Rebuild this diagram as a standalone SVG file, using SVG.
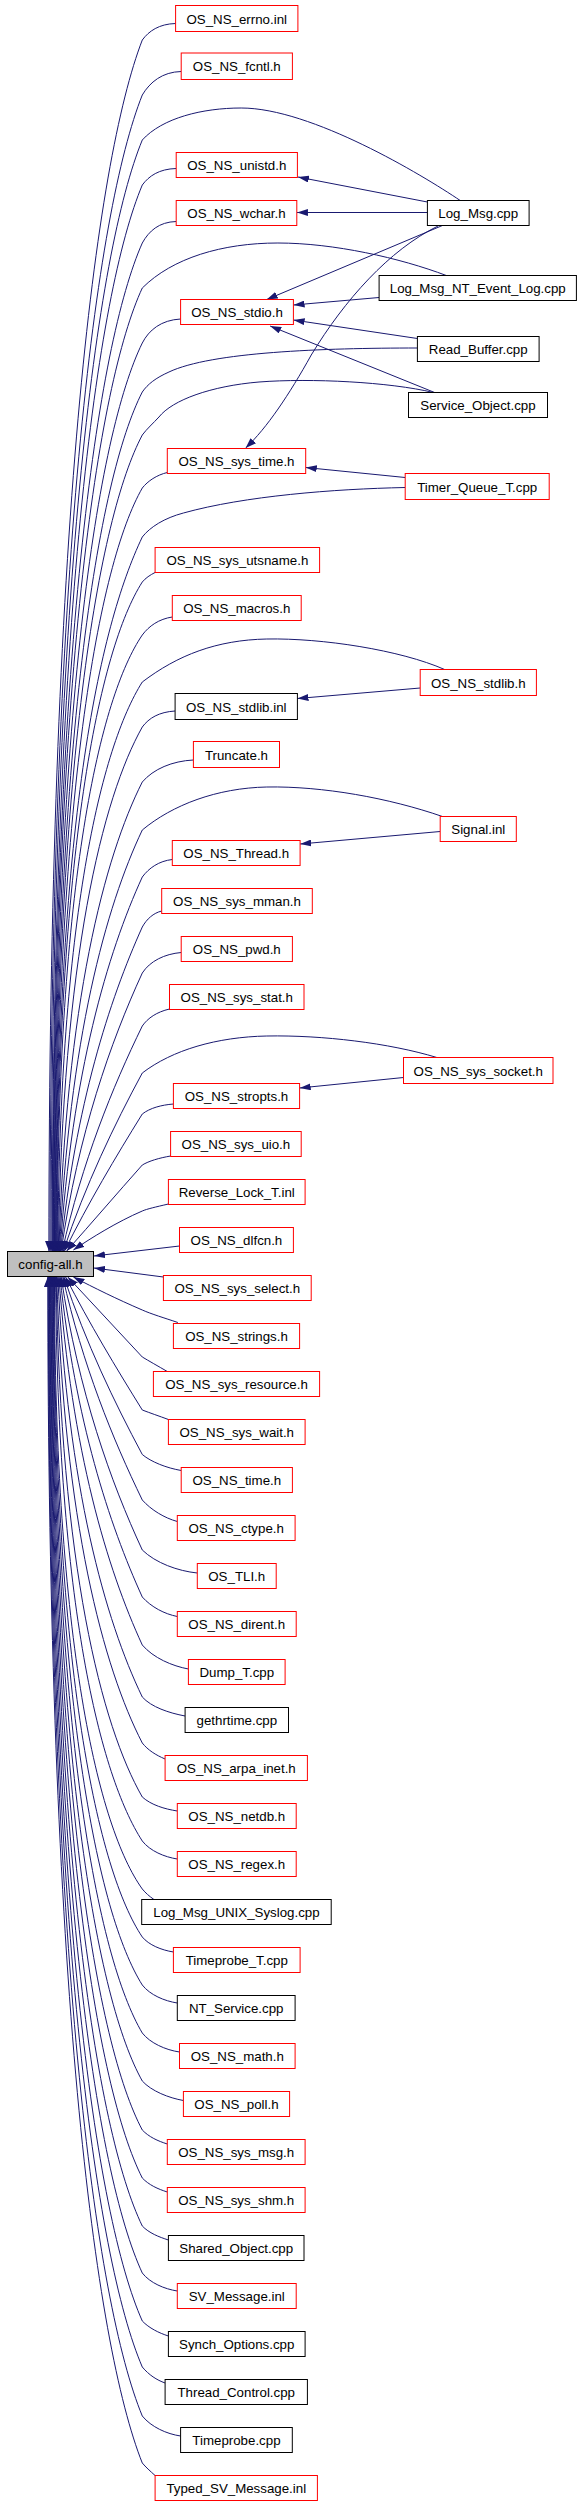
<svg xmlns="http://www.w3.org/2000/svg" width="581" height="2504" viewBox="0 0 581 2504">
<style>
.e{fill:none;stroke:#191970;stroke-width:1;vector-effect:non-scaling-stroke;marker-end:url(#a)}
.n rect{fill:#fff;stroke-width:1}
.r rect{stroke:#ff0000}
.b rect{stroke:#000}
.n text{font-family:"Liberation Sans",Arial,sans-serif;font-size:13.3px;text-anchor:middle;fill:#000}
</style>
<defs>
<marker id="a" viewBox="0 0 10 7" refX="10" refY="3.5" markerWidth="10" markerHeight="7" markerUnits="userSpaceOnUse" orient="auto">
<path d="M0,0 L10,3.5 L0,7 z" fill="#191970"/>
</marker>
</defs>
<rect width="581" height="2504" fill="#fff"/>
<g id="edges" transform="matrix(1.1116,0,0,1,0,0)">
<path class="e" d="M158,23.5 C143,24 134,31 128,40 C86,161 44,524 44,1251"/>
<path class="e" d="M163,71.5 C146,72 135,82 128,95 C86.5,211 45,557 45,1251"/>
<path class="e" d="M414,200.5 C380,175 280,108 217,108 C182,108 146,118 128,140 C87,251 46,584 46,1251"/>
<path class="e" d="M158.5,168.5 C143,169 134,176 128,185 C87.5,292 47,611 47,1251"/>
<path class="e" d="M158.5,221.5 C143,222 134,231 128,243 C87.75,344 47.5,646 47.5,1251"/>
<path class="e" d="M401.5,275.5 C360,258 300,243 250,243 C200,243 155,258 128,288 C88,384 48,673 48,1251"/>
<path class="e" d="M162.5,319 C145,320 134,330 128,343 C88,434 48.5,706 48.5,1251"/>
<path class="e" d="M375.5,348 C290,348 190,352 152,372 C140,378 133,384 128,392 C88.5,478 49,736 49,1251"/>
<path class="e" d="M390,392.5 C350,382 280,378 233,382 C190,386 155,400 143,417 C138,423 132,429 128,435 C89,517 49.5,761 49.5,1251"/>
<path class="e" d="M150.5,472.5 C141,475 133,481 128,488 C89,564 50,793 50,1251"/>
<path class="e" d="M364.5,487.5 C300,489 220,496 165,513 C148,518 135,527 128,537 C89,628 50.5,823 50.5,1251"/>
<path class="e" d="M139.5,572.5 C135,575 131,578 128,582 C89.5,649 51,850 51,1251"/>
<path class="e" d="M155,617 C143,619 134,626 128,635 C90,697 51.5,881 51.5,1251"/>
<path class="e" d="M400,669.5 C360,650 290,638 240,639 C195,640 160,655 128,682 C91,747 53.5,919 52,1251"/>
<path class="e" d="M157.5,711 C143,712 134,718 128,727 C92.2,797.7 56.2,958 52.5,1251"/>
<path class="e" d="M174,760 C155,761 138,769 128,782 C93.9,857 59.5,1003 53,1251"/>
<path class="e" d="M398,816.5 C350,798 290,786 240,787 C195,788 155,805 128,830 C95.3,906.6 62.3,1039 53.5,1251"/>
<path class="e" d="M155,859.5 C143,861 134,868 128,877 C96.7,953 65,1072 54,1251"/>
<path class="e" d="M145.5,911 C138,913 132,919 128,927 C98.2,1000.5 67.9,1105 54.5,1251"/>
<path class="e" d="M163,952.5 C148,954 135,961 128,973 C99.5,1042 70.5,1133 55,1251"/>
<path class="e" d="M152.5,1009 C141,1012 133,1018 128,1026 C101.2,1087 73.8,1162 56,1251"/>
<path class="e" d="M393,1057.5 C350,1043 290,1035 240,1036 C195,1037 155,1050 128,1073 C102.7,1125 76.8,1185 57,1251"/>
<path class="e" d="M156,1104 C145,1105 135,1108 128,1114 C104,1157 79.4,1203 58,1251"/>
<path class="e" d="M153.5,1156 C143,1158 134,1161 128,1165 C105.6,1193 82.4,1223 60,1251"/>
<path class="e" d="M151.5,1204 C140,1207 132,1209 128,1211 C105,1222 82,1238 66,1250"/>
<path class="e" d="M161.5,1246 L84.5,1256"/>
<path class="e" d="M147,1277 L84.5,1268"/>
<path class="e" d="M160,1322.5 C148,1318 136,1314 128,1310 C105,1299 85,1288 66,1277"/>
<path class="e" d="M150.5,1371.5 C142,1366 134,1361 128,1357 C105.9,1330.6 83.1,1303.4 61,1277"/>
<path class="e" d="M151.5,1419.5 C143,1416 135,1413 128,1410 C104.5,1368 80.3,1323.3 59,1277"/>
<path class="e" d="M163,1470.5 C150,1468 136,1462 128,1454.5 C102.9,1402.3 77.2,1343 57.5,1277"/>
<path class="e" d="M159.5,1521.5 C148,1518 136,1510 128,1500 C101.4,1439 74.3,1365.3 56.5,1277"/>
<path class="e" d="M177.5,1573 C160,1571 140,1563 128,1550 C99.6,1482 70.8,1392.5 55,1277"/>
<path class="e" d="M159.5,1616.5 C148,1614 136,1607 128,1597 C98,1523.8 67.7,1420.7 54,1277"/>
<path class="e" d="M169.5,1669 C155,1666 138,1658 128,1645 C96.4,1568.8 64.5,1451.8 53,1277"/>
<path class="e" d="M166.5,1716 C152,1713 136,1707 128,1697 C94.6,1620 61,1488 52,1277"/>
<path class="e" d="M148.5,1759 C140,1755 133,1750 128,1743 C93,1667.5 57.8,1523 51,1277"/>
<path class="e" d="M159.5,1811 C148,1809 136,1805 128,1797 C91.3,1725.8 54.6,1566.6 50.5,1277"/>
<path class="e" d="M159.5,1859 C148,1857 135,1851 128,1841 C90,1775.6 51.8,1604.7 50,1277"/>
<path class="e" d="M138.5,1899.5 C134,1896 131,1893 128,1889 C88.5,1827.8 49,1644 49,1277"/>
<path class="e" d="M156,1952 C145,1950 134,1945 128,1937 C88.25,1871 48.5,1673 48.5,1277"/>
<path class="e" d="M159.5,2003 C148,2001 135,1995 128,1985 C88,1914.2 48,1701.8 48,1277"/>
<path class="e" d="M161.5,2052 C149,2050 135,2043 128,2033 C87.75,1957.4 47.5,1730.6 47.5,1277"/>
<path class="e" d="M165,2100.5 C152,2098 136,2091 128,2081 C87.5,2000.6 47,1759.4 47,1277"/>
<path class="e" d="M150.5,2144 C142,2141 134,2137 128,2130 C87.25,2044.7 46.5,1788.8 46.5,1277"/>
<path class="e" d="M150.5,2192 C142,2189 134,2185 128,2178 C87,2087.9 46,1817.6 46,1277"/>
<path class="e" d="M151.5,2240 C143,2237 134,2233 128,2226 C86.75,2131.1 45.5,1846.4 45.5,1277"/>
<path class="e" d="M159.5,2291 C148,2289 135,2283 128,2273 C86.5,2173.4 45,1874.6 45,1277"/>
<path class="e" d="M151.5,2336 C143,2333 134,2328 128,2321 C86.25,2216.6 44.5,1903.4 44.5,1277"/>
<path class="e" d="M148.5,2383 C141,2380 134,2375 128,2367 C86,2258 44,1931 44,1277"/>
<path class="e" d="M162.5,2436 C150,2434 136,2427 128,2416 C85.75,2302.1 43.5,1960.4 43.5,1277"/>
<path class="e" d="M139.5,2475.5 C135,2471 131,2467 128,2463 C85.5,2344.4 43,1988.6 43,1277"/>
<path class="e" d="M384.5,202 L268,177"/>
<path class="e" d="M384.5,212.5 L267,212.5"/>
<path class="e" d="M398,225.5 L240,299.5"/>
<path class="e" d="M394,226 C350,250 310,300 280,355 C260,395 240,428 221,448"/>
<path class="e" d="M341,297.5 L264,305"/>
<path class="e" d="M375.5,338.5 L264,320"/>
<path class="e" d="M391,392.5 L243,326"/>
<path class="e" d="M364.5,477.5 L275,467.5"/>
<path class="e" d="M378,688 L267.5,698.5"/>
<path class="e" d="M396,831.5 L270,844"/>
<path class="e" d="M363,1077.5 L269.5,1088"/>
</g>
<g id="node-config-all" class="n b"><rect x="7.5" y="1251.5" width="86" height="25" style="fill:#bfbfbf"/><text x="50.5" y="1269">config-all.h</text></g>
<g id="node-errno" class="n r"><rect x="175.6" y="5.5" width="122.3" height="26"/><text x="236.75" y="23.5">OS_NS_errno.inl</text></g>
<g id="node-fcntl" class="n r"><rect x="181.2" y="53" width="111.2" height="26.5"/><text x="236.8" y="71">OS_NS_fcntl.h</text></g>
<g id="node-unistd" class="n r"><rect x="176.2" y="152.5" width="121.2" height="25"/><text x="236.8" y="170">OS_NS_unistd.h</text></g>
<g id="node-wchar" class="n r"><rect x="176.2" y="200.5" width="120.6" height="25"/><text x="236.5" y="218">OS_NS_wchar.h</text></g>
<g id="node-stdio" class="n r"><rect x="180.6" y="299.5" width="112.8" height="25"/><text x="237" y="317">OS_NS_stdio.h</text></g>
<g id="node-sys_time" class="n r"><rect x="167.3" y="448.5" width="138.4" height="25"/><text x="236.5" y="466">OS_NS_sys_time.h</text></g>
<g id="node-utsname" class="n r"><rect x="155.1" y="547.5" width="164.5" height="25"/><text x="237.35" y="565">OS_NS_sys_utsname.h</text></g>
<g id="node-macros" class="n r"><rect x="172.3" y="595.5" width="128.9" height="25"/><text x="236.75" y="613">OS_NS_macros.h</text></g>
<g id="node-stdlib_inl" class="n b"><rect x="175.1" y="693.5" width="122.3" height="26"/><text x="236.25" y="711.5">OS_NS_stdlib.inl</text></g>
<g id="node-truncate" class="n r"><rect x="193.4" y="741.5" width="86.1" height="26"/><text x="236.45" y="759.5">Truncate.h</text></g>
<g id="node-thread" class="n r"><rect x="172.3" y="840.5" width="127.8" height="25"/><text x="236.2" y="858">OS_NS_Thread.h</text></g>
<g id="node-mman" class="n r"><rect x="161.7" y="888.5" width="150.6" height="25"/><text x="237" y="906">OS_NS_sys_mman.h</text></g>
<g id="node-pwd" class="n r"><rect x="181.2" y="936.5" width="111.2" height="25"/><text x="236.8" y="954">OS_NS_pwd.h</text></g>
<g id="node-stat" class="n r"><rect x="169.5" y="984.5" width="134.5" height="25"/><text x="236.75" y="1002">OS_NS_sys_stat.h</text></g>
<g id="node-stropts" class="n r"><rect x="173.4" y="1083.5" width="126.2" height="25"/><text x="236.5" y="1101">OS_NS_stropts.h</text></g>
<g id="node-uio" class="n r"><rect x="170.6" y="1131.5" width="130.6" height="25"/><text x="235.9" y="1149">OS_NS_sys_uio.h</text></g>
<g id="node-reverse_lock" class="n r"><rect x="168.4" y="1179.5" width="136.7" height="25"/><text x="236.75" y="1197">Reverse_Lock_T.inl</text></g>
<g id="node-dlfcn" class="n r"><rect x="179.5" y="1227.5" width="113.9" height="25"/><text x="236.45" y="1245">OS_NS_dlfcn.h</text></g>
<g id="node-select" class="n r"><rect x="163.4" y="1275.5" width="147.8" height="25"/><text x="237.3" y="1293">OS_NS_sys_select.h</text></g>
<g id="node-strings" class="n r"><rect x="173.4" y="1323.5" width="126.2" height="25"/><text x="236.5" y="1341">OS_NS_strings.h</text></g>
<g id="node-resource" class="n r"><rect x="153.4" y="1371.5" width="166.2" height="25"/><text x="236.5" y="1389">OS_NS_sys_resource.h</text></g>
<g id="node-wait" class="n r"><rect x="168.4" y="1419.5" width="136.7" height="25"/><text x="236.75" y="1437">OS_NS_sys_wait.h</text></g>
<g id="node-time" class="n r"><rect x="181.2" y="1467.5" width="111.2" height="25"/><text x="236.8" y="1485">OS_NS_time.h</text></g>
<g id="node-ctype" class="n r"><rect x="177.3" y="1515.5" width="117.8" height="25"/><text x="236.2" y="1533">OS_NS_ctype.h</text></g>
<g id="node-tli" class="n r"><rect x="197.3" y="1563.5" width="78.9" height="25"/><text x="236.75" y="1581">OS_TLI.h</text></g>
<g id="node-dirent" class="n r"><rect x="177.3" y="1611.5" width="118.9" height="25"/><text x="236.75" y="1629">OS_NS_dirent.h</text></g>
<g id="node-dump_t" class="n r"><rect x="188.4" y="1659.5" width="96.7" height="25"/><text x="236.75" y="1677">Dump_T.cpp</text></g>
<g id="node-gethrtime" class="n b"><rect x="185.1" y="1707.5" width="103.4" height="25"/><text x="236.8" y="1725">gethrtime.cpp</text></g>
<g id="node-arpa_inet" class="n r"><rect x="165.1" y="1755.5" width="142.3" height="25"/><text x="236.25" y="1773">OS_NS_arpa_inet.h</text></g>
<g id="node-netdb" class="n r"><rect x="177.3" y="1803.5" width="118.9" height="25"/><text x="236.75" y="1821">OS_NS_netdb.h</text></g>
<g id="node-regex" class="n r"><rect x="177.3" y="1851.5" width="118.9" height="25"/><text x="236.75" y="1869">OS_NS_regex.h</text></g>
<g id="node-unix_syslog" class="n b"><rect x="141.7" y="1899.5" width="189.5" height="25"/><text x="236.45" y="1917">Log_Msg_UNIX_Syslog.cpp</text></g>
<g id="node-timeprobe_t" class="n r"><rect x="173.4" y="1947.5" width="126.7" height="25"/><text x="236.75" y="1965">Timeprobe_T.cpp</text></g>
<g id="node-nt_service" class="n b"><rect x="177.3" y="1995.5" width="117.8" height="25"/><text x="236.2" y="2013">NT_Service.cpp</text></g>
<g id="node-math" class="n r"><rect x="179.5" y="2043.5" width="115.6" height="25"/><text x="237.3" y="2061">OS_NS_math.h</text></g>
<g id="node-poll" class="n r"><rect x="183.4" y="2091.5" width="106.2" height="25"/><text x="236.5" y="2109">OS_NS_poll.h</text></g>
<g id="node-sys_msg" class="n r"><rect x="167.3" y="2139.5" width="137.8" height="25"/><text x="236.2" y="2157">OS_NS_sys_msg.h</text></g>
<g id="node-sys_shm" class="n r"><rect x="167.3" y="2187.5" width="137.8" height="25"/><text x="236.2" y="2205">OS_NS_sys_shm.h</text></g>
<g id="node-shared_object" class="n b"><rect x="168.4" y="2235.5" width="135.6" height="25"/><text x="236.2" y="2253">Shared_Object.cpp</text></g>
<g id="node-sv_message" class="n r"><rect x="177.3" y="2283.5" width="118.9" height="25"/><text x="236.75" y="2301">SV_Message.inl</text></g>
<g id="node-synch_options" class="n b"><rect x="168.4" y="2331.5" width="136.7" height="25"/><text x="236.75" y="2349">Synch_Options.cpp</text></g>
<g id="node-thread_control" class="n b"><rect x="165.1" y="2379.5" width="142.3" height="25"/><text x="236.25" y="2397">Thread_Control.cpp</text></g>
<g id="node-timeprobe" class="n b"><rect x="180.6" y="2427.5" width="111.7" height="25"/><text x="236.45" y="2445">Timeprobe.cpp</text></g>
<g id="node-typed_sv_message" class="n r"><rect x="155.1" y="2475.5" width="162.3" height="25"/><text x="236.25" y="2493">Typed_SV_Message.inl</text></g>
<g id="node-log_msg" class="n b"><rect x="427.4" y="200.5" width="101.7" height="25"/><text x="478.25" y="218">Log_Msg.cpp</text></g>
<g id="node-nt_event_log" class="n b"><rect x="379.1" y="275.5" width="197.3" height="25"/><text x="477.75" y="293">Log_Msg_NT_Event_Log.cpp</text></g>
<g id="node-read_buffer" class="n b"><rect x="417.4" y="336.5" width="121.7" height="25"/><text x="478.25" y="354">Read_Buffer.cpp</text></g>
<g id="node-service_object" class="n b"><rect x="408.5" y="392.5" width="139" height="25"/><text x="478" y="410">Service_Object.cpp</text></g>
<g id="node-timer_queue" class="n r"><rect x="405.2" y="473.5" width="144" height="26"/><text x="477.2" y="491.5">Timer_Queue_T.cpp</text></g>
<g id="node-stdlib_h" class="n r"><rect x="420.2" y="669.5" width="116.2" height="26"/><text x="478.3" y="687.5">OS_NS_stdlib.h</text></g>
<g id="node-signal" class="n r"><rect x="440.2" y="816.5" width="76.1" height="25"/><text x="478.25" y="834">Signal.inl</text></g>
<g id="node-sys_socket" class="n r"><rect x="403.5" y="1057.5" width="149.5" height="26"/><text x="478.25" y="1075.5">OS_NS_sys_socket.h</text></g>
</svg>
